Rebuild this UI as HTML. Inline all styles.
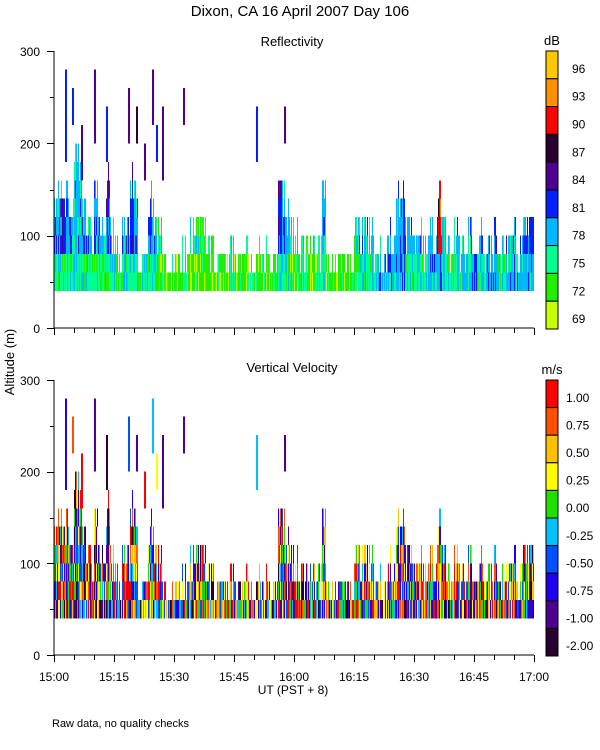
<!DOCTYPE html>
<html><head><meta charset="utf-8"><style>
body{margin:0;background:#fff;}
svg{display:block;font-family:"Liberation Sans",sans-serif;}
</style></head><body>
<svg id="c" width="600" height="750" viewBox="0 0 600 750"></svg>
<script>
// ---- data (minutes after 15:00, altitudes in m) ----
const timeTicks = ["15:00","15:15","15:30","15:45","16:00","16:15","16:30","16:45","17:00"];
const altTicks = [0,100,200,300];
const dbLabels = ["96","93","90","87","84","81","78","75","72","69"];
const velLabels = ["1.00","0.75","0.50","0.25","0.00","-0.25","-0.50","-0.75","-1.00","-2.00"];
const echoTops = [140,160,130,160,140,200,200,140,120,120,
160,120,120,180,120,120,100,120,140,170,
160,100,90,120,160,120,120,80,80,80,
80,80,100,80,120,120,120,120,100,100,
80,100,80,80,100,80,80,80,100,80,
80,100,80,100,80,80,160,160,140,120,
120,100,100,100,100,100,100,180,80,80,
80,80,100,80,80,120,120,120,120,120,
80,100,80,100,120,140,160,160,120,120,
100,120,100,120,120,120,160,120,100,100,
120,100,100,120,120,100,120,100,100,100,
120,100,120,100,100,120,100,120,120,120];
const reflLow = [2,2,2,2,2,2,2,2,2,2, 2,2,2,2,2,2,2,2,2,2, 2,2,2,2,2,2,1,1,1,1,
1,1,1,1,1,1,1,1,1,1, 1,1,1,1,1,1,1,1,1,1, 1,1,1,1,1,1,2,2,2,1,
1,1,1,1,1,1,2,2,1,1, 1,1,1,1,1,1,2,2,2,2, 2,3,3,3,3,3,3,3,2,2,
2,2,2,2,3,3,3,2,2,2, 2,2,3,3,3,3,2,2,3,3, 3,2,2,3,3,3,3,3,3,3];
const reflHigh = [3,3,4,3,3,3,3,3,3,3, 3,3,3,4,3,3,3,3,3,4, 3,3,3,3,3,3,2,2,2,2,
2,2,2,2,2,2,2,2,2,2, 2,2,2,2,2,2,2,2,2,2, 2,2,2,2,2,2,4,3,3,2,
2,2,2,2,2,2,2,3,2,2, 2,2,2,2,2,2,3,3,3,3, 3,3,3,3,4,3,3,4,3,3,
3,3,3,3,3,4,7,3,3,3, 3,3,3,3,3,3,3,3,3,3, 4,3,3,4,3,3,4,3,4,4];
const velBase = [5,5,4,5,6,4,5,4,5,5, 4,5,4,4,5,5,4,5,5,4, 5,4,5,5,4,5,5,6,5,4,
5,6,5,5,5,4,5,5,5,4, 5,4,5,5,5,5,4,5,6,5, 4,5,5,4,5,5,4,4,5,5,
5,5,4,5,5,5,5,4,4,4, 5,5,5,4,5,5,5,5,5,5, 4,5,5,5,5,5,4,4,5,5,
5,5,6,5,5,5,5,4,5,5, 5,5,5,5,4,5,5,5,5,5, 4,5,5,5,5,5,5,5,5,4];
// isolated upper echoes: minute, base, top, refl class, vel class
const spikeMin = [2.7,4.5,6.7,10,13,18.5,20.5,22.5,24.5,25.5,27,32.3,50.5,57.5];
const spikeBase = [180,220,160,200,180,200,200,160,220,180,160,220,180,200];
const spikeTop = [280,260,220,280,240,260,240,200,280,220,240,260,240,240];
const spikeRefl = [4,4,5,5,4,5,6,5,5,4,5,5,4,5];
const spikeVel = [2,8,9,1,0,3,1,9,4,6,1,1,4,1];

const reflColors = ["#c8ff00","#20f000","#00ff90","#00b8ff","#0020ff","#500090","#2a0030","#ff0000","#ff9000","#ffc800"];
const velColors = ["#2a0030","#500090","#2000f0","#0050ff","#00c0ff","#20e000","#ffff00","#ffc000","#ff5000","#ff0000"];

const NS="http://www.w3.org/2000/svg";
const svg=document.getElementById('c');
function mk(tag,attrs,parent){const e=document.createElementNS(NS,tag);for(const k in attrs)e.setAttribute(k,attrs[k]);(parent||svg).appendChild(e);return e;}
function txt(s,x,y,size,anchor,parent,name){const t=mk('text',{x:x,y:y,'font-size':size,'text-anchor':anchor||'start',fill:'#000'},parent);t.textContent=s;


return t;}
// deterministic texture (speckle) hash, 0..1 — visual texture only
function speckle(a,b){let h=Math.imul(a+1,374761393)^Math.imul(b+7,668265263);h=Math.imul(h^(h>>>13),1274126177);h^=h>>>16;return (h>>>0)/4294967296;}
const X0=54,X1=534;
const xs=m=>X0+(m/120)*(X1-X0);
const panels=[{name:'reflectivity',y0:328,y300:51,title:'Reflectivity',ty:46,colors:reflColors,labels:dbLabels,unit:'dB'},
              {name:'velocity',y0:655,y300:380,title:'Vertical Velocity',ty:372,colors:velColors,labels:velLabels,unit:'m/s'}];

txt('Dixon, CA 16 April 2007  Day 106',300,16,15,'middle',svg,'figure-title');
const yl=txt('Altitude (m)',0,0,13,'middle',svg,'y-axis-title');yl.setAttribute('transform','translate(14,362) rotate(-90)');
txt('UT  (PST + 8)',293,694,12,'middle',svg,'x-axis-title');
txt('Raw data, no quality checks',52,727,11,'start',svg,'footnote');

panels.forEach((p,pi)=>{
  const g=mk('g',{});
  
  
  const ys=a=>p.y0-(a/300)*(p.y0-p.y300);
  txt(p.title,292,p.ty,13,'middle',g,p.name+'-title');
  const marks=mk('g',{'shape-rendering':'crispEdges'},g);
  
  
  for(let m=0;m<120;m++){
    for(let s=0;s<4;s++){
      const k=m*4+s;
      const hv=speckle(k,999);
      let top=echoTops[m]-(hv<0.45?0:hv<0.8?20:40);
      if(top<60)top=60;
      for(let b=40;b<top;b+=20){
        const bi=(b-40)/20;
        const r1=speckle(k,bi+pi*50);
        let cls;
        if(pi===0){const base=b<80?reflLow[m]:reflHigh[m];cls=base+(r1<0.2?-1:r1<0.8?0:1);}
        else{cls=velBase[m]+Math.round((r1-0.5)*9.5);}
        cls=Math.max(0,Math.min(9,cls));
        const r=mk('rect',{x:xs(m)+s,y:ys(b+20),width:1,height:ys(b)-ys(b+20),fill:p.colors[cls]},marks);
        
        
      }
    }
  }
  spikeMin.forEach((sm,i)=>{
    const r=mk('rect',{x:xs(sm),y:ys(spikeTop[i]),width:2,height:ys(spikeBase[i])-ys(spikeTop[i]),fill:p.colors[pi===0?spikeRefl[i]:spikeVel[i]]},marks);
    
    
  });
  // axes
  const ax=mk('g',{stroke:'#000','stroke-width':1,'shape-rendering':'crispEdges'},g);
  
  
  mk('line',{x1:X0,y1:p.y300,x2:X0,y2:p.y0},ax);
  mk('line',{x1:X0,y1:p.y0,x2:X1,y2:p.y0},ax);
  for(let a=0;a<=300;a+=50){const y=Math.round(ys(a))+0.5;mk('line',{x1:X0-(a%100===0?7:4),y1:y,x2:X0,y2:y},ax);}
  altTicks.forEach(a=>txt(String(a),40,ys(a)+5,12,'end',g,p.name+'-y-tick-label'));
  for(let m=0;m<=120;m+=5){const x=Math.round(xs(m))+0.5;mk('line',{x1:x,y1:p.y0,x2:x,y2:p.y0+(m%15===0?7:5)},ax);}
  if(pi===1)timeTicks.forEach((t,i)=>txt(t,xs(i*15),p.y0+26,12,'middle',g,'x-tick-label'));
  // colorbar
  const cb=mk('g',{},g);
  
  
  const h=(p.y0+1-p.y300)/10;
  for(let i=0;i<10;i++){
    const r=mk('rect',{x:546,y:p.y300+i*h,width:12,height:h,fill:p.colors[9-i],stroke:'#000','stroke-width':1},cb);
    
    
    txt(p.labels[i],pi===0?572:566,p.y300+i*h+h/2+8,12,'start',cb,'colorbar-label');
  }
  txt(p.unit,552,p.y300-6,13,'middle',cb,'colorbar-unit');
});
</script>
</body></html>
